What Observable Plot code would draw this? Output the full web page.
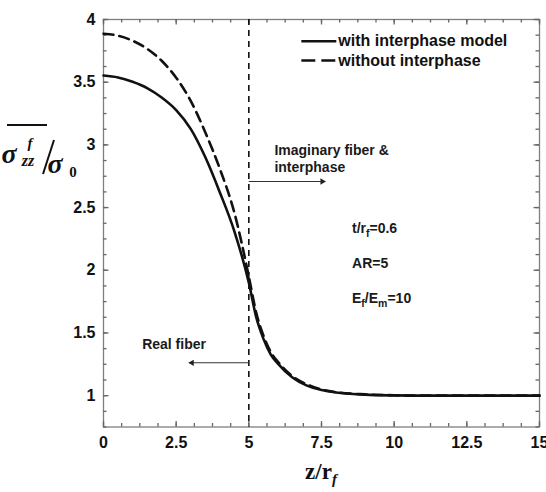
<!DOCTYPE html>
<html><head><meta charset="utf-8">
<script src="https://cdn.jsdelivr.net/npm/d3@7"></script>
<script src="https://cdn.jsdelivr.net/npm/@observablehq/plot@0.6"></script>
<style>
body{margin:0;background:#fff;}
#chart{width:546px;height:492px;}
#chart svg{font-family:"Liberation Sans",Arial,sans-serif;overflow:hidden;}
</style></head><body><div id="chart"></div>
<script>
// ---- data ----
const zValues          = [0, 0.5, 1, 1.5, 2, 2.5, 3, 3.5, 4, 4.5, 5, 5.25, 5.5, 5.75, 6, 6.5, 7, 7.5, 8, 9, 10, 11, 12, 13, 14, 15];
const withInterphase   = [3.553, 3.538, 3.503, 3.453, 3.378, 3.278, 3.128, 2.903, 2.623, 2.313, 1.90, 1.63, 1.455, 1.33, 1.255, 1.145, 1.08, 1.045, 1.025, 1.008, 1.002, 1.0, 1.0, 1.0, 1.0, 1.0];
const withoutInterphase= [3.886, 3.871, 3.831, 3.766, 3.671, 3.536, 3.351, 3.101, 2.811, 2.461, 1.95, 1.665, 1.48, 1.35, 1.27, 1.155, 1.09, 1.05, 1.028, 1.01, 1.003, 1.0, 1.0, 1.0, 1.0, 1.0];
const seriesNames      = ["with interphase model", "without interphase"];
const xTickLabels      = [0, 2.5, 5, 7.5, 10, 12.5, 15];
const yTickLabels      = [1, 1.5, 2, 2.5, 3, 3.5, 4];
const fiberEnd         = 5;
const annotationTexts  = ["Imaginary fiber &", "interphase", "t/rf=0.6", "AR=5", "Ef/Em=10", "Real fiber"];

// ---- layout (positions in data units) ----
const annotationPos = [[5.88, 2.955], [5.88, 2.822], [8.55, 2.333], [8.55, 2.057], [8.55, 1.775], [1.33, 1.408]];
const arrowSpecs = [{x1: 5, x2: 7.63, y: 2.708, dir: 1}, {x1: 5, x2: 2.94, y: 1.262, dir: -1}];
const legendPos = {x1: 6.806, x2: 8.01, xt: 8.08, y: [3.827, 3.673]};

const rows = zValues.flatMap((z, i) => [
  {z, v: withInterphase[i], s: seriesNames[0]},
  {z, v: withoutInterphase[i], s: seriesNames[1]}
]);
const annotations = annotationTexts.map((t, i) => ({t, x: annotationPos[i][0], y: annotationPos[i][1]}));
const legendRows = seriesNames.map((s, i) => ({s, y: legendPos.y[i]}));

const xDom = [0, 15], yDom = [0.75, 4];
const xMinor = d3.range(0, 15.0001, 0.625);
const yMinor = d3.range(0.75, 4.0001, 0.125);
const tickColor = "#666";
const W = 546, H = 492, mL = 103, mR = 7, mT = 19, mB = 65.5;
const fw = W - mL - mR, fh = H - mT - mB;
// tick lengths (px) converted to data units
const ux = (xDom[1] - xDom[0]) / fw, uy = (yDom[1] - yDom[0]) / fh;
const xTickRules = (vals, len) => [
  Plot.ruleX(vals, {x: d => d, y1: yDom[0], y2: yDom[0] + len * uy, stroke: tickColor, strokeWidth: 1.3}),
  Plot.ruleX(vals, {x: d => d, y1: yDom[1], y2: yDom[1] - len * uy, stroke: tickColor, strokeWidth: 1.3})
];
const yTickRules = (vals, len) => [
  Plot.ruleY(vals, {y: d => d, x1: xDom[0], x2: xDom[0] + len * ux, stroke: tickColor, strokeWidth: 1.3}),
  Plot.ruleY(vals, {y: d => d, x1: xDom[1], x2: xDom[1] - len * ux, stroke: tickColor, strokeWidth: 1.3})
];

const chart = Plot.plot({
  width: W, height: H,
  marginLeft: mL, marginRight: mR, marginTop: mT, marginBottom: mB,
  x: {domain: xDom},
  y: {domain: yDom},
  marks: [
    Plot.frame({stroke: "#7f7f7f", strokeWidth: 1.3}),
    // inward ticks on all four sides
    ...xTickRules(xMinor, 3.5), ...xTickRules(xTickLabels, 5.5),
    ...yTickRules(yMinor, 3.5), ...yTickRules(yTickLabels, 5.5),
    // tick labels
    Plot.axisX(xTickLabels, {anchor: "bottom", tickSize: 0, tickPadding: 10, fontSize: 16, fontWeight: "bold", fill: "#111", label: null, tickFormat: d => String(d)}),
    Plot.axisY(yTickLabels, {anchor: "left", tickSize: 0, tickPadding: 8, fontSize: 16, fontWeight: "bold", fill: "#111", label: null, tickFormat: d => String(d)}),
    // fiber end
    Plot.ruleX([fiberEnd], {stroke: "#111", strokeWidth: 1.6, strokeDasharray: "6,5"}),
    // curves
    Plot.line(rows.filter(d => d.s === seriesNames[1]), {x: "z", y: "v", curve: "monotone-x", stroke: "#111", strokeWidth: 2.6, strokeDasharray: "10,6"}),
    Plot.line(rows.filter(d => d.s === seriesNames[0]), {x: "z", y: "v", curve: "monotone-x", stroke: "#111", strokeWidth: 2.6}),
    // arrows
    Plot.link(arrowSpecs, {x1: "x1", x2: "x2", y1: "y", y2: "y", stroke: "#333", strokeWidth: 1.1}),
    Plot.dot(arrowSpecs.filter(d => d.dir > 0), {x: "x2", y: "y", symbol: "triangle2", r: 3, rotate: 90, dx: -3, fill: "#222", stroke: "none"}),
    Plot.dot(arrowSpecs.filter(d => d.dir < 0), {x: "x2", y: "y", symbol: "triangle2", r: 3, rotate: -90, dx: 3, fill: "#222", stroke: "none"}),
    // annotation texts
    Plot.text(annotations, {x: "x", y: "y", text: "t", textAnchor: "start", fontSize: 14, fontWeight: "bold", fill: "#1a1a1a"}),
    // legend
    Plot.link(legendRows.slice(0, 1), {x1: () => legendPos.x1, x2: () => legendPos.x2, y1: "y", y2: "y", stroke: "#111", strokeWidth: 2.6}),
    Plot.link(legendRows.slice(1), {x1: () => legendPos.x1, x2: () => legendPos.x2, y1: "y", y2: "y", stroke: "#111", strokeWidth: 2.6, strokeDasharray: "14,6"}),
    Plot.text(legendRows, {x: () => legendPos.xt, y: "y", text: "s", textAnchor: "start", fontSize: 16, fontWeight: "bold", fill: "#111"})
  ]
});

// rich text: subscripts
const rich = {
  "t/rf=0.6": [["t/r"], ["f", 1], ["=0.6"]],
  "Ef/Em=10": [["E"], ["f", 1], ["/E"], ["m", 1], ["=10"]]
};
chart.querySelectorAll("text").forEach(t => {
  const parts = rich[t.textContent];
  if (!parts) return;
  t.textContent = "";
  let shifted = false;
  parts.forEach(([s, sub]) => {
    const ts = document.createElementNS("http://www.w3.org/2000/svg", "tspan");
    ts.textContent = s;
    if (sub && !shifted) { ts.setAttribute("dy", 4); shifted = true; }
    else if (!sub && shifted) { ts.setAttribute("dy", -4); shifted = false; }
    if (sub) ts.setAttribute("font-size", 10.5);
    t.appendChild(ts);
  });
});

// axis titles
const svg = d3.select(chart);
const serif = '"Liberation Serif","Times New Roman",serif';
const yt = svg.append("g").attr("font-family", serif).attr("font-weight", "bold").attr("font-style", "italic").attr("fill", "#111");
yt.append("text").attr("x", 9).attr("y", 163).attr("font-size", 28).text("σ");
// stacked super/subscript (f over zz)
yt.append("text").attr("x", 30).attr("y", 148).attr("font-size", 15).text("f");
yt.append("text").attr("x", 28).attr("y", 166).attr("font-size", 16).text("zz");
yt.append("line").attr("x1", 7).attr("x2", 47).attr("y1", 125).attr("y2", 125).attr("stroke", "#111").attr("stroke-width", 2);
yt.append("line").attr("x1", 43).attr("x2", 54).attr("y1", 174).attr("y2", 140).attr("stroke", "#111").attr("stroke-width", 2);
yt.append("text").attr("x", 55).attr("y", 173).attr("font-size", 28).text("σ");
yt.append("text").attr("x", 73).attr("y", 177).attr("font-size", 15).attr("font-style", "normal").text("0");

const xt = svg.append("text").attr("x", 321).attr("y", 479).attr("text-anchor", "middle")
  .attr("font-family", serif).attr("font-weight", "bold").attr("font-size", 23).attr("fill", "#111");
xt.append("tspan").text("z/r");
xt.append("tspan").attr("dy", 5).attr("font-size", 15).attr("font-style", "italic").text("f");

document.getElementById("chart").appendChild(chart);
</script>
</body></html>
